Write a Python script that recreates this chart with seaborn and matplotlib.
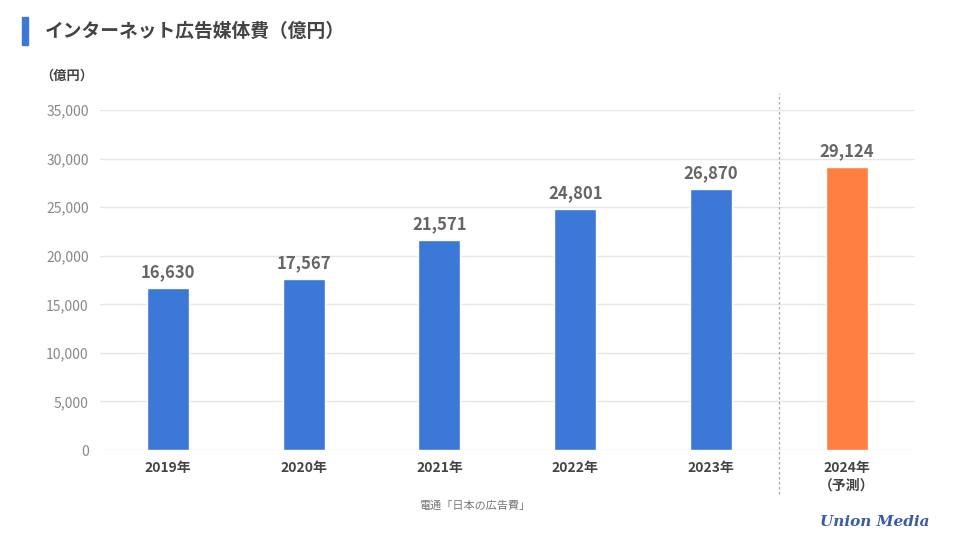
import matplotlib
matplotlib.use("Agg")
import matplotlib.pyplot as plt
import matplotlib.patches as patches
import seaborn as sns
import pandas as pd

# data
years = ["2019年", "2020年", "2021年", "2022年", "2023年", "2024年\n（予測）"]
spend = [16630, 17567, 21571, 24801, 26870, 29124]
bar_colors = ["#3C78D8", "#3C78D8", "#3C78D8", "#3C78D8", "#3C78D8", "#FF7F40"]
y_ticks = [0, 5000, 10000, 15000, 20000, 25000, 30000, 35000]

sns.set_theme(style="white")
plt.rcParams["font.family"] = ["Noto Sans CJK JP", "DejaVu Sans"]

df = pd.DataFrame({"year": years, "spend": spend})

fig = plt.figure(figsize=(9.6, 5.39), dpi=100)
ax = fig.add_axes([0.104, 0.165, 0.849, 0.631])

sns.barplot(data=df, x="year", y="spend", hue="year", palette=bar_colors,
            width=0.31, legend=False, ax=ax, saturation=1)

ax.set_ylim(0, 35000)
ax.set_xlim(-0.5, 5.5)
ax.set_yticks(y_ticks)
ax.set_yticklabels([f"{v:,}" for v in y_ticks], color="#888888", fontsize=10)
ax.set_xticks(range(len(years)))
ax.set_xticklabels(years, color="#444444", fontsize=10, fontweight="bold", linespacing=1.3)
ax.tick_params(axis="both", length=0, pad=8)
ax.yaxis.grid(True, color="#e6e6e6", linewidth=1)
ax.set_axisbelow(True)
for s in ax.spines.values():
    s.set_visible(False)
ax.set_xlabel("")
ax.set_ylabel("")

# value labels
for i, v in enumerate(spend):
    ax.text(i, v + 700, f"{v:,}", ha="center", va="bottom",
            fontsize=12, fontweight="bold", color="#666666")

# dashed separator before the forecast year
ax.axvline(4.5, ymin=-0.13, ymax=1.05, color="#aaaaaa", linestyle=(0, (2, 2)),
           linewidth=0.9, clip_on=False)

# title with accent bar
fig.patches.append(patches.Rectangle((22 / 960, 1 - 45 / 539), 6 / 960, 28 / 539,
                                     transform=fig.transFigure, color="#3C78D8"))
fig.text(45 / 960, 1 - 31 / 539, "インターネット広告媒体費（億円）", fontsize=13.5,
         fontweight="bold", color="#444444", va="center")
fig.text(40 / 960, 1 - 76 / 539, "（億円）", fontsize=9.5, fontweight="bold",
         color="#444444", va="center")

# source and logo
fig.text(475 / 960, 1 - 506 / 539, "電通「日本の広告費」", fontsize=8,
         color="#777777", ha="center", va="center")
fig.text(930 / 960, 1 - 522 / 539, "Union Media", fontsize=11, fontweight="bold",
         fontstyle="italic", color="#3A5BA8", ha="right", va="center",
         family=["DejaVu Serif"])

fig.savefig("out.png", dpi=100)
